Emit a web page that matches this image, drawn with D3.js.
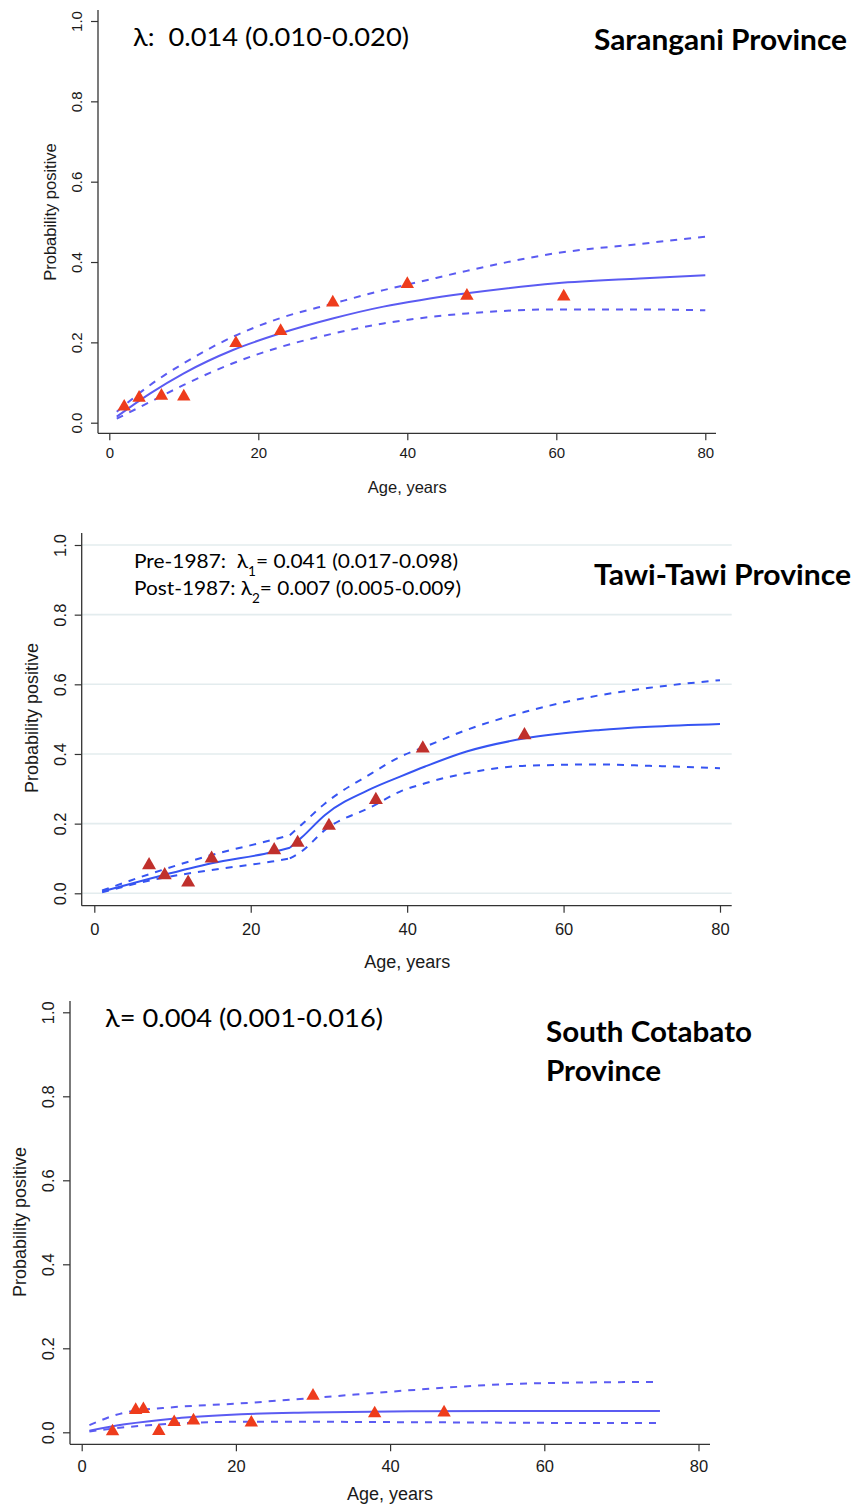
<!DOCTYPE html>
<html><head><meta charset="utf-8">
<script src="https://cdn.jsdelivr.net/npm/d3@7"></script>
<style>body{margin:0;background:#fff} svg{display:block} text{white-space:pre}</style>
</head><body>
<svg id="chart" width="856" height="1506"></svg>
<script>
// ---------- shared tick labels / titles ----------
const yTickValues = [0, 0.2, 0.4, 0.6, 0.8, 1.0];
const xTickValues = [0, 20, 40, 60, 80];
const xTitle = "Age, years";
const yTitle = "Probability positive";

// ---------- Sarangani Province ----------
const sarTitle = "Sarangani Province";
const sarLambda = "λ:  0.014 (0.010-0.020)";
const sarObsAge = [2, 4, 7, 10, 17, 23, 30, 40, 48, 61];
const sarObsVal = [0.040, 0.062, 0.067, 0.065, 0.198, 0.228, 0.299, 0.345, 0.316, 0.314];
const sarFitAge = [1, 5.5, 10, 16.6, 22.9, 30.1, 36.8, 41.7, 48, 60, 71.2, 80];
const sarFit    = [0.015, 0.073, 0.123, 0.181, 0.222, 0.260, 0.289, 0.305, 0.322, 0.347, 0.359, 0.367];
const sarUpper  = [0.027, 0.094, 0.148, 0.214, 0.260, 0.297, 0.330, 0.351, 0.378, 0.422, 0.445, 0.463];
const sarLower  = [0.010, 0.052, 0.094, 0.148, 0.188, 0.222, 0.247, 0.260, 0.272, 0.282, 0.282, 0.280];

// ---------- Tawi-Tawi Province (change point at age 25 = 1987) ----------
const tawTitle = "Tawi-Tawi Province";
const tawObsAge = [7, 9, 12, 15, 23, 26, 30, 36, 42, 55];
const tawObsVal = [0.081, 0.052, 0.031, 0.100, 0.124, 0.145, 0.194, 0.268, 0.416, 0.454];
const tawBreakAge = 25;
const tawFitAge = [1, 7.3, 15, 22.7, 25, 26.5, 29.5, 35.5, 39.1, 42.3, 47.6, 55.1, 64.7, 71, 80];
const tawFit    = [0.005, 0.043, 0.086, 0.118, 0.131, 0.160, 0.225, 0.301, 0.335, 0.364, 0.407, 0.445, 0.469, 0.478, 0.486];
const tawUpper  = [0.008, 0.057, 0.110, 0.153, 0.167, 0.197, 0.258, 0.345, 0.392, 0.421, 0.469, 0.521, 0.569, 0.590, 0.612];
const tawLower  = [0.003, 0.038, 0.067, 0.091, 0.100, 0.120, 0.182, 0.249, 0.292, 0.316, 0.345, 0.366, 0.370, 0.366, 0.359];

// ---------- South Cotabato Province ----------
const socTitle = ["South Cotabato", "Province"];
const socLambda = "λ= 0.004 (0.001-0.016)";
const socObsAge = [4, 7, 8, 10, 12, 14.5, 22, 30, 38, 47];
const socObsVal = [0.002, 0.053, 0.055, 0.003, 0.024, 0.028, 0.023, 0.087, 0.045, 0.047];
const socFitAge = [1, 5.6, 12.1, 20.7, 29.4, 43.2, 54.3, 67.2, 75];
const socFit    = [0.004, 0.019, 0.033, 0.043, 0.047, 0.050, 0.051, 0.051, 0.051];
const socUpper  = [0.017, 0.047, 0.060, 0.069, 0.081, 0.101, 0.114, 0.119, 0.120];
const socLower  = [0.002, 0.012, 0.021, 0.025, 0.025, 0.024, 0.023, 0.022, 0.022];

const svg = d3.select("#chart");
const tickFont = "'Liberation Sans', Arial, Helvetica, sans-serif";
const annFont = "Lato, 'Open Sans', sans-serif";

function drawPanel(c) {
  const g = svg.append("g");
  const x = d3.scaleLinear().domain([0, 80]).range(c.xr);
  const y = d3.scaleLinear().domain([0, 1]).range(c.yr);

  if (c.grid) {
    g.selectAll("line.grid").data(yTickValues).join("line").attr("class", "grid")
      .attr("x1", c.axisX).attr("x2", c.axisRight)
      .attr("y1", d => y(d)).attr("y2", d => y(d))
      .attr("stroke", "#e3ecee").attr("stroke-width", 1.6);
  }

  // axis lines
  g.append("line").attr("x1", c.axisX).attr("x2", c.axisRight).attr("y1", c.axisY).attr("y2", c.axisY)
    .attr("stroke", "#333").attr("stroke-width", 1.3);
  g.append("line").attr("x1", c.axisX).attr("x2", c.axisX).attr("y1", c.axisTop).attr("y2", c.axisY)
    .attr("stroke", "#333").attr("stroke-width", 1.3);

  const xa = g.append("g").attr("transform", `translate(0,${c.axisY})`).attr("color", "#333")
    .call(d3.axisBottom(x).tickValues(xTickValues).tickSize(7).tickSizeOuter(0).tickFormat(d3.format("d")));
  xa.select(".domain").remove();
  xa.selectAll("line").attr("stroke-width", 1.2);
  xa.selectAll("text").attr("y", c.xLabelBase - c.axisY).attr("dy", 0)
    .attr("fill", "#1a1a1a").style("font-family", tickFont).style("font-size", c.tickSize + "px");

  const ya = g.append("g").attr("transform", `translate(${c.axisX},0)`).attr("color", "#333")
    .call(d3.axisLeft(y).tickValues(yTickValues).tickSize(7).tickSizeOuter(0).tickFormat(d3.format(".1f")));
  ya.select(".domain").remove();
  ya.selectAll("line").attr("stroke-width", 1.2);
  ya.selectAll("text").attr("transform", "rotate(-90)").attr("x", 0).attr("y", -c.yLabelOff)
    .attr("dy", "0.35em").attr("text-anchor", "middle")
    .attr("fill", "#1a1a1a").style("font-family", tickFont).style("font-size", c.tickSize + "px");

  // axis titles
  g.append("text").attr("x", (c.xr[0] + c.xr[1]) / 2).attr("y", c.xTitleBase).attr("text-anchor", "middle")
    .style("font-family", tickFont).style("font-size", c.titleSize + "px").attr("fill", "#1a1a1a").text(xTitle);
  g.append("text").attr("transform", `translate(${c.yTitleX},${c.yTitleY}) rotate(-90)`).attr("dy", "0.35em")
    .attr("text-anchor", "middle").style("font-family", tickFont).style("font-size", c.titleSize + "px")
    .attr("fill", "#1a1a1a").text(yTitle);

  // curves (split at change point if any, so the kink stays sharp)
  const line = d3.line().x(d => x(d[0])).y(d => y(d[1])).curve(d3.curveMonotoneX);
  const segs = vals => {
    const pts = c.fitAge.map((a, i) => [a, vals[i]]);
    if (c.breakAge == null) return [pts];
    return [pts.filter(p => p[0] <= c.breakAge), pts.filter(p => p[0] >= c.breakAge)];
  };
  [c.upper, c.lower].forEach(v => {
    g.append("path").attr("d", segs(v).map(s => line(s)).join("")).attr("fill", "none")
      .attr("stroke", c.lineColor).attr("stroke-width", 2).attr("stroke-dasharray", "7,7");
  });
  g.append("path").attr("d", segs(c.fit).map(s => line(s)).join("")).attr("fill", "none")
    .attr("stroke", c.lineColor).attr("stroke-width", 2);

  // observed points
  const sym = d3.symbol(d3.symbolTriangle, c.symSize);
  g.selectAll("path.obs").data(c.obsAge.map((a, i) => [a, c.obsVal[i]])).join("path").attr("class", "obs")
    .attr("transform", d => `translate(${x(d[0])},${y(d[1])})`)
    .attr("d", sym()).attr("fill", c.markColor);

  return g;
}

// ---- Panel 1 ----
const g1 = drawPanel({
  xr: [109.3, 705.3], yr: [422.7, 21], axisX: 98, axisRight: 716, axisY: 433.3, axisTop: 10,
  xLabelBase: 458, yLabelOff: 21, tickSize: 15, titleSize: 16.5, xTitleBase: 493,
  yTitleX: 50, yTitleY: 212, grid: false,
  fitAge: sarFitAge, fit: sarFit, upper: sarUpper, lower: sarLower,
  obsAge: sarObsAge, obsVal: sarObsVal, lineColor: "#5b5bf2", markColor: "#ee3c1c", symSize: 78
});
g1.append("text").attr("x", 133).attr("y", 46).style("font-family", annFont).style("font-size", "25px")
  .attr("textLength", 276).attr("lengthAdjust", "spacingAndGlyphs").text(sarLambda);
g1.append("text").attr("x", 594).attr("y", 50).style("font-family", annFont).style("font-size", "28px")
  .style("font-weight", "bold").attr("textLength", 253).attr("lengthAdjust", "spacingAndGlyphs").text(sarTitle);

// ---- Panel 2 ----
const g2 = drawPanel({
  xr: [94.3, 720], yr: [893.3, 545], axisX: 81.7, axisRight: 731.7, axisY: 905.7, axisTop: 533,
  xLabelBase: 935, yLabelOff: 21, tickSize: 16.5, titleSize: 18, xTitleBase: 968,
  yTitleX: 32, yTitleY: 718, grid: true, breakAge: tawBreakAge,
  fitAge: tawFitAge, fit: tawFit, upper: tawUpper, lower: tawLower,
  obsAge: tawObsAge, obsVal: tawObsVal, lineColor: "#3654f2", markColor: "#c0302c", symSize: 85
});
const l1 = g2.append("text").attr("x", 134).attr("y", 568).style("font-family", annFont).style("font-size", "20px")
  .attr("textLength", 324).attr("lengthAdjust", "spacingAndGlyphs");
l1.append("tspan").text("Pre-1987:  λ");
l1.append("tspan").attr("baseline-shift", "sub").style("font-size", "13px").text("1");
l1.append("tspan").text("= 0.041 (0.017-0.098)");
const l2 = g2.append("text").attr("x", 134).attr("y", 595).style("font-family", annFont).style("font-size", "20px")
  .attr("textLength", 327).attr("lengthAdjust", "spacingAndGlyphs");
l2.append("tspan").text("Post-1987: λ");
l2.append("tspan").attr("baseline-shift", "sub").style("font-size", "13px").text("2");
l2.append("tspan").text("= 0.007 (0.005-0.009)");
g2.append("text").attr("x", 594).attr("y", 585).style("font-family", annFont).style("font-size", "28px")
  .style("font-weight", "bold").attr("textLength", 257).attr("lengthAdjust", "spacingAndGlyphs").text(tawTitle);

// ---- Panel 3 ----
const g3 = drawPanel({
  xr: [81.7, 698.5], yr: [1432.3, 1012.3], axisX: 70, axisRight: 710, axisY: 1444.3, axisTop: 1001,
  xLabelBase: 1472, yLabelOff: 22, tickSize: 16.5, titleSize: 18, xTitleBase: 1500,
  yTitleX: 20, yTitleY: 1222, grid: false,
  fitAge: socFitAge, fit: socFit, upper: socUpper, lower: socLower,
  obsAge: socObsAge, obsVal: socObsVal, lineColor: "#5b5bf2", markColor: "#ee3c1c", symSize: 78
});
g3.append("text").attr("x", 105).attr("y", 1027).style("font-family", annFont).style("font-size", "25px")
  .attr("textLength", 278).attr("lengthAdjust", "spacingAndGlyphs").text(socLambda);
g3.append("text").attr("x", 546).attr("y", 1042).style("font-family", annFont).style("font-size", "28px")
  .style("font-weight", "bold").attr("textLength", 206).attr("lengthAdjust", "spacingAndGlyphs").text(socTitle[0]);
g3.append("text").attr("x", 546).attr("y", 1081).style("font-family", annFont).style("font-size", "28px")
  .style("font-weight", "bold").attr("textLength", 115).attr("lengthAdjust", "spacingAndGlyphs").text(socTitle[1]);
</script>
</body></html>
